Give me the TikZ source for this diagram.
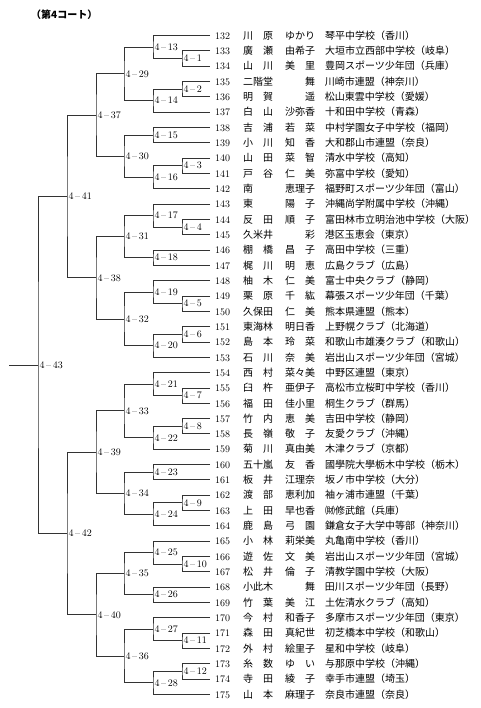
\documentclass[tikz,border=0pt]{standalone}
\usepackage{fontspec}
\newfontfamily\jp{Noto Sans CJK JP}
\usetikzlibrary{positioning}

% one row of the draw sheet: number, surname, given name, team
\newcommand{\plyr}[4]{\makebox[16pt][l]{#1}\hspace{12pt}{\jp\makebox[30pt][s]{#2}\hspace{12pt}\makebox[30pt][s]{#3}\hspace{10pt}#4}}

\begin{document}
\begin{tikzpicture}[
  x=1pt, y=-1pt,
  plr/.style={anchor=west, inner xsep=5pt, inner ysep=0pt, outer sep=0pt, font=\fontsize{10}{10}\selectfont},
  mt/.style={anchor=west, inner xsep=1.5pt, inner ysep=0pt, outer sep=0pt, font=\fontsize{10}{10}\selectfont},
  brk/.style={draw=black!80, line width=0.7pt},
  ttl/.style={anchor=west, inner sep=0pt, font=\jp\bfseries\fontsize{10}{10}\selectfont},
]
\useasboundingbox (0,0) rectangle (480,708);

% === Title ===
\node[ttl] (title) at (31, 15) {（第4コート）};

% === Players ===
\node[plr] (n132) at (210, 35.5) {\plyr{132}{川\hfill 原}{ゆかり}{琴平中学校（香川）}};
\node[plr] (n133) at (210, 50.8) {\plyr{133}{廣\hfill 瀬}{由希子}{大垣市立西部中学校（岐阜）}};
\node[plr] (n134) at (210, 66.1) {\plyr{134}{山\hfill 川}{美\hfill 里}{豊岡スポーツ少年団（兵庫）}};
\node[plr] (n135) at (210, 81.5) {\plyr{135}{二階堂}{\hfill 舞}{川崎市連盟（神奈川）}};
\node[plr] (n136) at (210, 96.8) {\plyr{136}{明\hfill 賀}{\hfill 遥}{松山東雲中学校（愛媛）}};
\node[plr] (n137) at (210, 112.1) {\plyr{137}{白\hfill 山}{沙弥香}{十和田中学校（青森）}};
\node[plr] (n138) at (210, 127.4) {\plyr{138}{吉\hfill 浦}{若\hfill 菜}{中村学園女子中学校（福岡）}};
\node[plr] (n139) at (210, 142.7) {\plyr{139}{小\hfill 川}{知\hfill 香}{大和郡山市連盟（奈良）}};
\node[plr] (n140) at (210, 158.1) {\plyr{140}{山\hfill 田}{菜\hfill 智}{清水中学校（高知）}};
\node[plr] (n141) at (210, 173.4) {\plyr{141}{戸\hfill 谷}{仁\hfill 美}{弥富中学校（愛知）}};
\node[plr] (n142) at (210, 188.7) {\plyr{142}{南\hfill}{恵理子}{福野町スポーツ少年団（富山）}};
\node[plr] (n143) at (210, 204.0) {\plyr{143}{東\hfill}{陽\hfill 子}{沖縄尚学附属中学校（沖縄）}};
\node[plr] (n144) at (210, 219.3) {\plyr{144}{反\hfill 田}{順\hfill 子}{富田林市立明治池中学校（大阪）}};
\node[plr] (n145) at (210, 234.7) {\plyr{145}{久米井}{\hfill 彩}{港区玉恵会（東京）}};
\node[plr] (n146) at (210, 250.0) {\plyr{146}{棚\hfill 橋}{昌\hfill 子}{高田中学校（三重）}};
\node[plr] (n147) at (210, 265.3) {\plyr{147}{梶\hfill 川}{明\hfill 恵}{広島クラブ（広島）}};
\node[plr] (n148) at (210, 280.6) {\plyr{148}{柚\hfill 木}{仁\hfill 美}{富士中央クラブ（静岡）}};
\node[plr] (n149) at (210, 295.9) {\plyr{149}{栗\hfill 原}{千\hfill 紘}{幕張スポーツ少年団（千葉）}};
\node[plr] (n150) at (210, 311.3) {\plyr{150}{久保田}{仁\hfill 美}{熊本県連盟（熊本）}};
\node[plr] (n151) at (210, 326.6) {\plyr{151}{東海林}{明日香}{上野幌クラブ（北海道）}};
\node[plr] (n152) at (210, 341.9) {\plyr{152}{島\hfill 本}{玲\hfill 菜}{和歌山市雄湊クラブ（和歌山）}};
\node[plr] (n153) at (210, 357.2) {\plyr{153}{石\hfill 川}{奈\hfill 美}{岩出山スポーツ少年団（宮城）}};
\node[plr] (n154) at (210, 372.5) {\plyr{154}{西\hfill 村}{菜々美}{中野区連盟（東京）}};
\node[plr] (n155) at (210, 387.9) {\plyr{155}{臼\hfill 杵}{亜伊子}{高松市立桜町中学校（香川）}};
\node[plr] (n156) at (210, 403.2) {\plyr{156}{福\hfill 田}{佳小里}{桐生クラブ（群馬）}};
\node[plr] (n157) at (210, 418.5) {\plyr{157}{竹\hfill 内}{恵\hfill 美}{吉田中学校（静岡）}};
\node[plr] (n158) at (210, 433.8) {\plyr{158}{長\hfill 嶺}{敬\hfill 子}{友愛クラブ（沖縄）}};
\node[plr] (n159) at (210, 449.1) {\plyr{159}{菊\hfill 川}{真由美}{木津クラブ（京都）}};
\node[plr] (n160) at (210, 464.5) {\plyr{160}{五十嵐}{友\hfill 香}{國學院大學栃木中学校（栃木）}};
\node[plr] (n161) at (210, 479.8) {\plyr{161}{板\hfill 井}{江理奈}{坂ノ市中学校（大分）}};
\node[plr] (n162) at (210, 495.1) {\plyr{162}{渡\hfill 部}{恵利加}{袖ヶ浦市連盟（千葉）}};
\node[plr] (n163) at (210, 510.4) {\plyr{163}{上\hfill 田}{早也香}{㈶修武館（兵庫）}};
\node[plr] (n164) at (210, 525.7) {\plyr{164}{鹿\hfill 島}{弓\hfill 園}{鎌倉女子大学中等部（神奈川）}};
\node[plr] (n165) at (210, 541.1) {\plyr{165}{小\hfill 林}{莉栄美}{丸亀南中学校（香川）}};
\node[plr] (n166) at (210, 556.4) {\plyr{166}{遊\hfill 佐}{文\hfill 美}{岩出山スポーツ少年団（宮城）}};
\node[plr] (n167) at (210, 571.7) {\plyr{167}{松\hfill 井}{倫\hfill 子}{清教学園中学校（大阪）}};
\node[plr] (n168) at (210, 587.0) {\plyr{168}{小此木}{\hfill 舞}{田川スポーツ少年団（長野）}};
\node[plr] (n169) at (210, 602.3) {\plyr{169}{竹\hfill 葉}{美\hfill 江}{土佐清水クラブ（高知）}};
\node[plr] (n170) at (210, 617.7) {\plyr{170}{今\hfill 村}{和香子}{多摩市スポーツ少年団（東京）}};
\node[plr] (n171) at (210, 633.0) {\plyr{171}{森\hfill 田}{真紀世}{初芝橋本中学校（和歌山）}};
\node[plr] (n172) at (210, 648.3) {\plyr{172}{外\hfill 村}{絵里子}{星和中学校（岐阜）}};
\node[plr] (n173) at (210, 663.6) {\plyr{173}{糸\hfill 数}{ゆ\hfill い}{与那原中学校（沖縄）}};
\node[plr] (n174) at (210, 678.9) {\plyr{174}{寺\hfill 田}{綾\hfill 子}{幸手市連盟（埼玉）}};
\node[plr] (n175) at (210, 694.3) {\plyr{175}{山\hfill 本}{麻理子}{奈良市連盟（奈良）}};

% === Round 1 ===
\node[mt] (m1) at (182, 58.5) {4\,--\,1};
\node[mt] (m2) at (182, 89.1) {4\,--\,2};
\node[mt] (m3) at (182, 165.7) {4\,--\,3};
\node[mt] (m4) at (182, 227.0) {4\,--\,4};
\node[mt] (m5) at (182, 303.6) {4\,--\,5};
\node[mt] (m6) at (182, 334.2) {4\,--\,6};
\node[mt] (m7) at (182, 395.5) {4\,--\,7};
\node[mt] (m8) at (182, 426.2) {4\,--\,8};
\node[mt] (m9) at (182, 502.8) {4\,--\,9};
\node[mt] (m10) at (182, 564.0) {4\,--\,10};
\node[mt] (m11) at (182, 640.6) {4\,--\,11};
\node[mt] (m12) at (182, 671.3) {4\,--\,12};

% === Round 2 ===
\node[mt] (m13) at (153, 47.0) {4\,--\,13};
\node[mt] (m14) at (153, 100.6) {4\,--\,14};
\node[mt] (m15) at (153, 135.1) {4\,--\,15};
\node[mt] (m16) at (153, 177.2) {4\,--\,16};
\node[mt] (m17) at (153, 215.5) {4\,--\,17};
\node[mt] (m18) at (153, 257.6) {4\,--\,18};
\node[mt] (m19) at (153, 292.1) {4\,--\,19};
\node[mt] (m20) at (153, 345.7) {4\,--\,20};
\node[mt] (m21) at (153, 384.0) {4\,--\,21};
\node[mt] (m22) at (153, 437.7) {4\,--\,22};
\node[mt] (m23) at (153, 472.1) {4\,--\,23};
\node[mt] (m24) at (153, 514.3) {4\,--\,24};
\node[mt] (m25) at (153, 552.5) {4\,--\,25};
\node[mt] (m26) at (153, 594.7) {4\,--\,26};
\node[mt] (m27) at (153, 629.1) {4\,--\,27};
\node[mt] (m28) at (153, 682.8) {4\,--\,28};

% === Rounds 3 to 6 ===
\node[mt] (m29) at (124, 73.8) {4\,--\,29};
\node[mt] (m30) at (124, 156.2) {4\,--\,30};
\node[mt] (m31) at (124, 236.6) {4\,--\,31};
\node[mt] (m32) at (124, 318.9) {4\,--\,32};
\node[mt] (m33) at (124, 410.8) {4\,--\,33};
\node[mt] (m34) at (124, 493.2) {4\,--\,34};
\node[mt] (m35) at (124, 573.6) {4\,--\,35};
\node[mt] (m36) at (124, 656.0) {4\,--\,36};
\node[mt] (m37) at (96, 115.0) {4\,--\,37};
\node[mt] (m38) at (96, 277.8) {4\,--\,38};
\node[mt] (m39) at (96, 452.0) {4\,--\,39};
\node[mt] (m40) at (96, 614.8) {4\,--\,40};
\node[mt] (m41) at (67, 196.4) {4\,--\,41};
\node[mt] (m42) at (67, 533.4) {4\,--\,42};
\node[mt] (m43) at (38, 364.9) {4\,--\,43};
\coordinate (root) at (9, 364.9);

% === Bracket lines ===
\draw[brk] (n133.west) -| (m1.west) |- (n134.west);
\draw[brk] (n135.west) -| (m2.west) |- (n136.west);
\draw[brk] (n140.west) -| (m3.west) |- (n141.west);
\draw[brk] (n144.west) -| (m4.west) |- (n145.west);
\draw[brk] (n149.west) -| (m5.west) |- (n150.west);
\draw[brk] (n151.west) -| (m6.west) |- (n152.west);
\draw[brk] (n155.west) -| (m7.west) |- (n156.west);
\draw[brk] (n157.west) -| (m8.west) |- (n158.west);
\draw[brk] (n162.west) -| (m9.west) |- (n163.west);
\draw[brk] (n166.west) -| (m10.west) |- (n167.west);
\draw[brk] (n171.west) -| (m11.west) |- (n172.west);
\draw[brk] (n173.west) -| (m12.west) |- (n174.west);

\draw[brk] (n132.west) -| (m13.west) |- (m1.west);
\draw[brk] (m2.west) -| (m14.west) |- (n137.west);
\draw[brk] (n138.west) -| (m15.west) |- (n139.west);
\draw[brk] (m3.west) -| (m16.west) |- (n142.west);
\draw[brk] (n143.west) -| (m17.west) |- (m4.west);
\draw[brk] (n146.west) -| (m18.west) |- (n147.west);
\draw[brk] (n148.west) -| (m19.west) |- (m5.west);
\draw[brk] (m6.west) -| (m20.west) |- (n153.west);
\draw[brk] (n154.west) -| (m21.west) |- (m7.west);
\draw[brk] (m8.west) -| (m22.west) |- (n159.west);
\draw[brk] (n160.west) -| (m23.west) |- (n161.west);
\draw[brk] (m9.west) -| (m24.west) |- (n164.west);
\draw[brk] (n165.west) -| (m25.west) |- (m10.west);
\draw[brk] (n168.west) -| (m26.west) |- (n169.west);
\draw[brk] (n170.west) -| (m27.west) |- (m11.west);
\draw[brk] (m12.west) -| (m28.west) |- (n175.west);

\draw[brk] (m13.west) -| (m29.west) |- (m14.west);
\draw[brk] (m15.west) -| (m30.west) |- (m16.west);
\draw[brk] (m17.west) -| (m31.west) |- (m18.west);
\draw[brk] (m19.west) -| (m32.west) |- (m20.west);
\draw[brk] (m21.west) -| (m33.west) |- (m22.west);
\draw[brk] (m23.west) -| (m34.west) |- (m24.west);
\draw[brk] (m25.west) -| (m35.west) |- (m26.west);
\draw[brk] (m27.west) -| (m36.west) |- (m28.west);

\draw[brk] (m29.west) -| (m37.west) |- (m30.west);
\draw[brk] (m31.west) -| (m38.west) |- (m32.west);
\draw[brk] (m33.west) -| (m39.west) |- (m34.west);
\draw[brk] (m35.west) -| (m40.west) |- (m36.west);

\draw[brk] (m37.west) -| (m41.west) |- (m38.west);
\draw[brk] (m39.west) -| (m42.west) |- (m40.west);

\draw[brk] (m41.west) -| (m43.west) |- (m42.west);
\draw[brk] (root) -- (m43.west);

\end{tikzpicture}
\end{document}
